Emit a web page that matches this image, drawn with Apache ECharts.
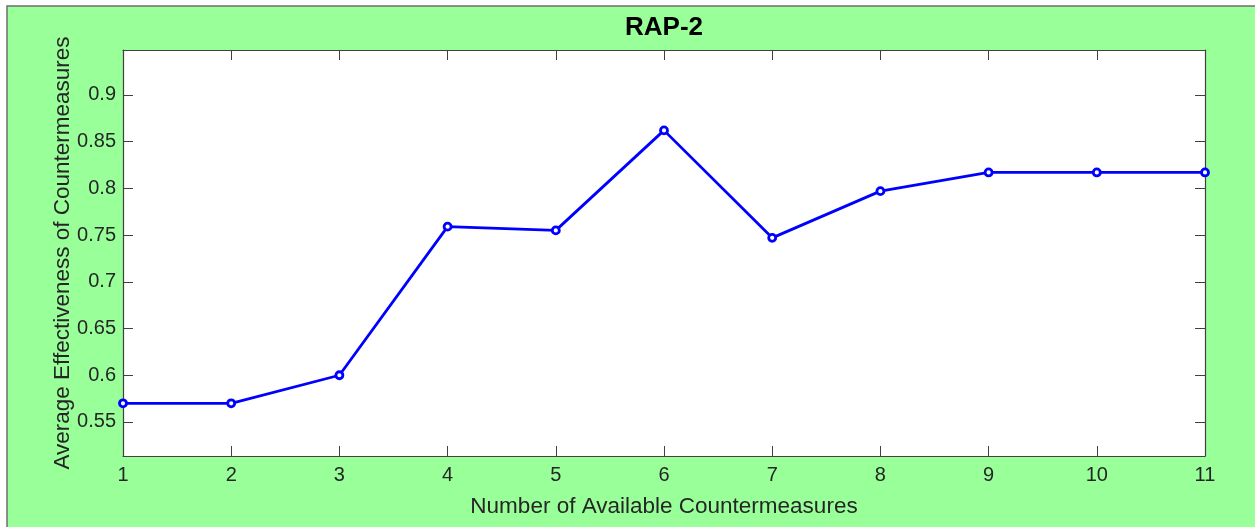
<!DOCTYPE html>
<html>
<head>
<meta charset="utf-8">
<title>RAP-2</title>
<script src="https://cdn.jsdelivr.net/npm/echarts@6/dist/echarts.min.js"></script>
<style>
  html, body { margin: 0; padding: 0; background: #ffffff; }
  #chart { width: 1255px; height: 527px; }
</style>
</head>
<body>
<div id="chart"></div>
<script>
// Number of available countermeasures (x) and average effectiveness (y)
const categories = [1, 2, 3, 4, 5, 6, 7, 8, 9, 10, 11];
const effectiveness = [0.570, 0.570, 0.600, 0.759, 0.755, 0.862, 0.747, 0.797, 0.817, 0.817, 0.817];
const yTicks = [0.55, 0.6, 0.65, 0.7, 0.75, 0.8, 0.85, 0.9];
const xTicks = [1, 2, 3, 4, 5, 6, 7, 8, 9, 10, 11];

const axisColor = '#404040';
const textColor = '#262626';
const font = 'Arial, "Liberation Sans", Helvetica, sans-serif';

const chart = echarts.init(document.getElementById('chart'), null, { renderer: 'canvas' });

const tickStyle = { inside: true, length: 10, lineStyle: { color: axisColor, width: 1 } };
const lineStyle = { show: true, onZero: false, lineStyle: { color: axisColor, width: 1.2 } };

const option = {
  animation: false,
  backgroundColor: '#ffffff',
  graphic: [
    {
      type: 'rect',
      z: -10,
      shape: { x: 7, y: 6, width: 1260, height: 540 },
      style: { fill: '#99ff99', stroke: '#6e6e6e', lineWidth: 1.5 }
    },
    {
      type: 'text',
      x: 664, y: 28,
      style: {
        text: 'RAP-2', fill: '#000000', font: 'bold 26px ' + font,
        align: 'center', verticalAlign: 'middle'
      }
    }
  ],
  grid: {
    left: 123, right: 50, top: 50, bottom: 71,
    outerBoundsMode: 'none',
    show: true, backgroundColor: '#ffffff', borderWidth: 0
  },
  xAxis: [
    {
      type: 'value', min: 1, max: 11, interval: 1, position: 'bottom',
      name: 'Number of Available Countermeasures', nameLocation: 'middle', nameGap: 39,
      nameMoveOverlap: false,
      nameTextStyle: { color: textColor, fontSize: 22.5, fontFamily: font },
      axisLine: lineStyle, axisTick: tickStyle, splitLine: { show: false },
      axisLabel: {
        color: textColor, fontSize: 20, fontFamily: font, margin: 9,
        customValues: xTicks
      }
    },
    {
      type: 'value', min: 1, max: 11, interval: 1, position: 'top',
      axisLine: lineStyle, axisTick: tickStyle, splitLine: { show: false },
      axisLabel: { show: false }
    }
  ],
  yAxis: [
    {
      type: 'value', min: 0.5136, max: 0.948, position: 'left',
      name: 'Average Effectiveness of Countermeasures', nameLocation: 'middle', nameGap: 49,
      nameMoveOverlap: false,
      nameTextStyle: { color: textColor, fontSize: 22.5, fontFamily: font },
      axisLine: lineStyle, splitLine: { show: false },
      axisTick: Object.assign({ customValues: yTicks }, tickStyle),
      axisLabel: {
        color: textColor, fontSize: 20, fontFamily: font, margin: 7,
        customValues: yTicks, formatter: v => String(+v.toFixed(2))
      }
    },
    {
      type: 'value', min: 0.5136, max: 0.948, position: 'right',
      axisLine: lineStyle, splitLine: { show: false },
      axisTick: Object.assign({ customValues: yTicks }, tickStyle),
      axisLabel: { show: false, customValues: yTicks }
    }
  ],
  series: [
    {
      type: 'line',
      data: categories.map((c, i) => [c, effectiveness[i]]),
      symbol: 'circle', symbolSize: 7,
      lineStyle: { color: '#0000ff', width: 2.8 },
      itemStyle: { color: '#ffffff', borderColor: '#0000ff', borderWidth: 2.8 },
      clip: false
    }
  ]
};

chart.setOption(option);
</script>
</body>
</html>
